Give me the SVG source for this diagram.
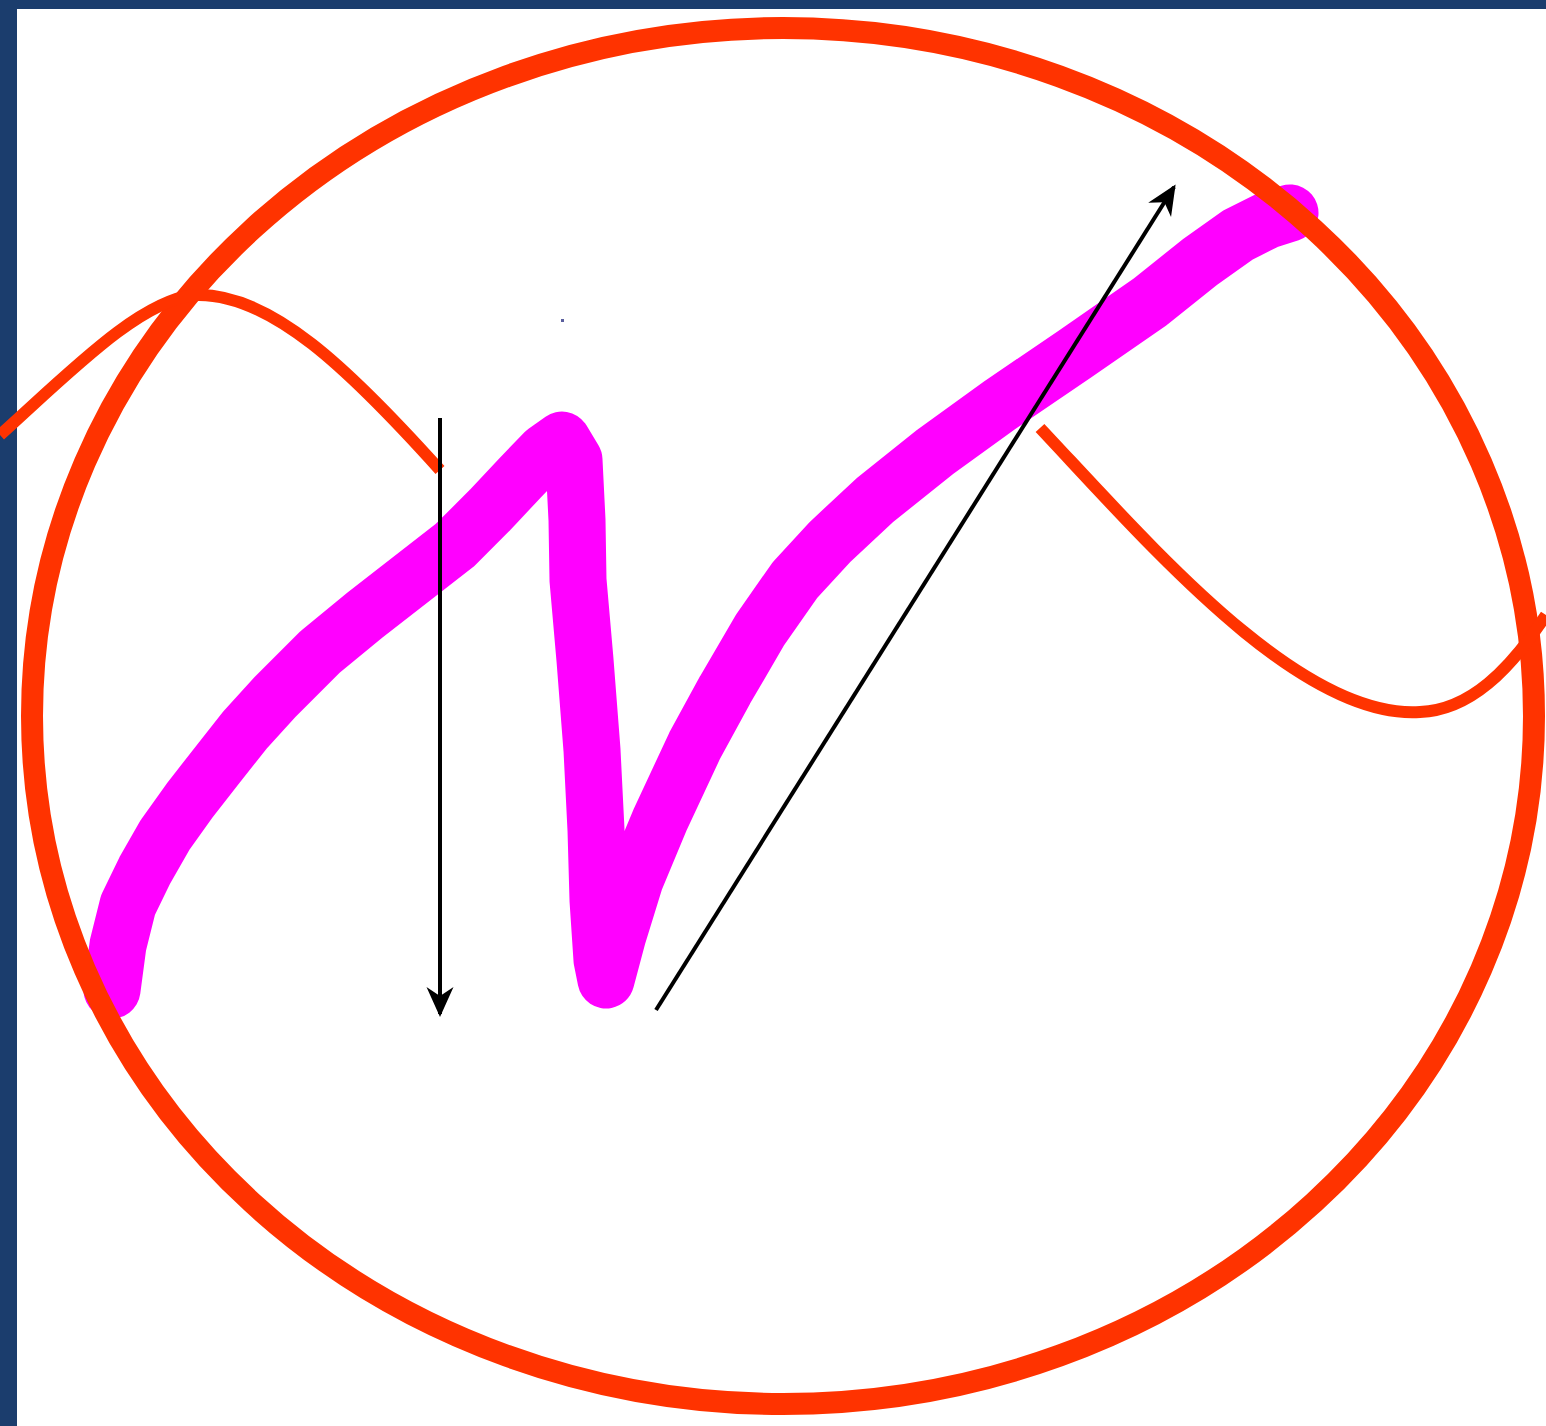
<svg xmlns="http://www.w3.org/2000/svg" width="1546" height="1426" viewBox="0 0 1546 1426">
<style>
.red{fill:none;stroke:#ff3300;stroke-width:12}
.arrow{fill:none;stroke:#000;stroke-width:4;marker-end:url(#ah)}
</style>
<defs>
<marker id="ah" markerUnits="userSpaceOnUse" markerWidth="30" markerHeight="30" viewBox="0 0 10 10" refX="9" refY="5" orient="auto">
<path d="M0,0.5 L10,5 L0,9.5 L3,5 z" fill="#000"/>
</marker>
</defs>
<rect x="0" y="0" width="1546" height="1426" fill="#fff"/>
<g id="frame" fill="#1b3d6d">
<rect x="0" y="0" width="1546" height="9"/>
<rect x="0" y="0" width="17" height="1426"/>
</g>
<g id="scribble">
<polyline points="112,990 118,945 128,905 145,870 165,835 190,800 215,768 245,730 275,697 320,652 365,615 410,580 455,545 490,510 520,478 545,452 562,440 574,460 577,520 578,580 585,660 592,750 596,830 598,900 602,960 606,980 618,935 635,880 660,820 695,745 725,690 760,630 795,580 830,542 875,500 935,452 1000,405 1075,354 1150,302 1200,262 1238,235 1268,220 1290,213" fill="none" stroke="#ff00ff" stroke-width="57" stroke-linecap="round" stroke-linejoin="round"/>
</g>
<g id="ellipse">
<ellipse cx="783" cy="716" rx="751" ry="688" fill="none" stroke="#ff3300" stroke-width="22"/>
</g>
<g id="curves">
<path class="red" d="M0,435 C70,372 140,300 195,295 C270,292 350,370 440,470"/>
<path class="red" d="M1040,428 C1150,545 1300,720 1420,712 C1470,710 1510,670 1546,615"/>
</g>
<g id="connectors">
<line class="arrow" x1="440" y1="418" x2="440" y2="1014"/>
<line class="arrow" x1="656" y1="1010" x2="1174" y2="187"/>
</g>
<rect id="dot" x="561" y="319" width="3" height="3" fill="#5a5f9e"/>
</svg>
